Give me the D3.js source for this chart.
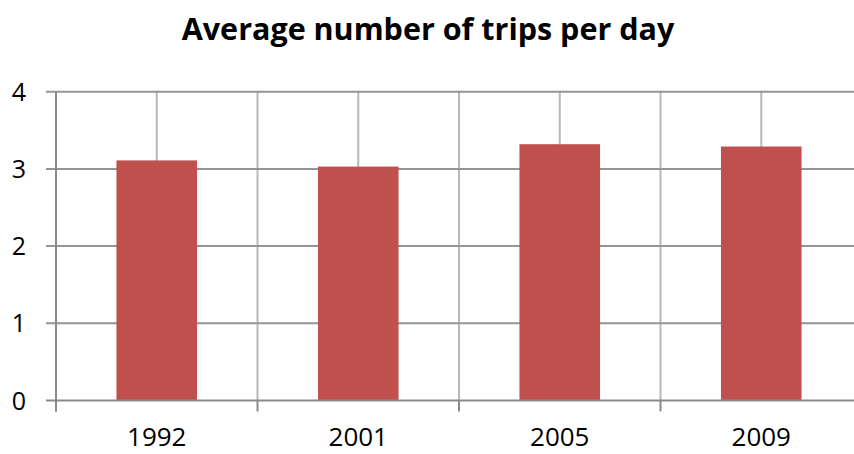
<!DOCTYPE html>
<html>
<head>
<meta charset="utf-8">
<script src="https://cdn.jsdelivr.net/npm/d3@7"></script>
<style>
body { margin: 0; background: #fff; }
svg { display: block; font-family: "Open Sans", sans-serif; }
</style>
</head>
<body>
<div id="chart"></div>
<script>
var width = 854;
var height = 454;

var title = "Average number of trips per day";
var years = ["1992", "2001", "2005", "2009"];
var trips = [3.11, 3.03, 3.32, 3.29];
var yTicks = [0, 1, 2, 3, 4];

var plot = { left: 56, right: 862, top: 91.7, bottom: 400.5 };

var svg = d3.select("div#chart").append("svg")
    .attr("width", width)
    .attr("height", height);

var x = d3.scaleBand()
    .domain(years)
    .range([plot.left, plot.right])
    .paddingInner(0.6)
    .paddingOuter(0.3);

var y = d3.scaleLinear()
    .domain([0, 4])
    .range([plot.bottom, plot.top]);

var step = x.step();

// vertical gridlines: category boundaries and centers
var vlines = [];
years.forEach(function(d, i) {
    vlines.push(plot.left + i * step);
    vlines.push(x(d) + x.bandwidth() / 2);
});
vlines.push(plot.left + years.length * step);

svg.append("g").selectAll("line")
    .data(vlines)
    .enter().append("line")
    .attr("x1", function(d) { return d; })
    .attr("x2", function(d) { return d; })
    .attr("y1", plot.top)
    .attr("y2", plot.bottom)
    .attr("stroke", "#b8b8b8")
    .attr("stroke-width", 2);

// horizontal gridlines
svg.append("g").selectAll("line")
    .data(yTicks.slice(1))
    .enter().append("line")
    .attr("x1", plot.left - 10)
    .attr("x2", plot.right)
    .attr("y1", function(d) { return y(d); })
    .attr("y2", function(d) { return y(d); })
    .attr("stroke", "#959595")
    .attr("stroke-width", 2);

// bars
svg.append("g").selectAll("rect")
    .data(trips)
    .enter().append("rect")
    .attr("x", function(d, i) { return x(years[i]); })
    .attr("width", x.bandwidth())
    .attr("y", function(d) { return y(d); })
    .attr("height", function(d) { return y(0) - y(d); })
    .attr("fill", "#c0504d");

// y axis line
svg.append("line")
    .attr("x1", plot.left).attr("x2", plot.left)
    .attr("y1", plot.top).attr("y2", plot.bottom + 11)
    .attr("stroke", "#8a8a8a")
    .attr("stroke-width", 2);

// x axis line + ticks
svg.append("line")
    .attr("x1", plot.left - 10).attr("x2", plot.right)
    .attr("y1", plot.bottom).attr("y2", plot.bottom)
    .attr("stroke", "#8a8a8a")
    .attr("stroke-width", 2);

svg.append("g").selectAll("line")
    .data(d3.range(years.length + 1))
    .enter().append("line")
    .attr("x1", function(i) { return plot.left + i * step; })
    .attr("x2", function(i) { return plot.left + i * step; })
    .attr("y1", plot.bottom)
    .attr("y2", plot.bottom + 11)
    .attr("stroke", "#8a8a8a")
    .attr("stroke-width", 2);

// y labels
svg.append("g").selectAll("text")
    .data(yTicks)
    .enter().append("text")
    .attr("x", 26)
    .attr("y", function(d) { return y(d); })
    .attr("dy", "0.36em")
    .attr("text-anchor", "end")
    .attr("font-size", 25)
    .attr("fill", "#000")
    .text(function(d) { return d; });

// x labels
svg.append("g").selectAll("text")
    .data(years)
    .enter().append("text")
    .attr("x", function(d) { return x(d) + x.bandwidth() / 2; })
    .attr("y", 446)
    .attr("text-anchor", "middle")
    .attr("font-size", 26)
    .attr("fill", "#000")
    .text(function(d) { return d; });

// title
svg.append("text")
    .attr("x", 428)
    .attr("y", 40)
    .attr("text-anchor", "middle")
    .attr("font-size", 30.5)
    .attr("font-weight", "bold")
    .attr("fill", "#000")
    .text(title);
</script>
</body>
</html>
